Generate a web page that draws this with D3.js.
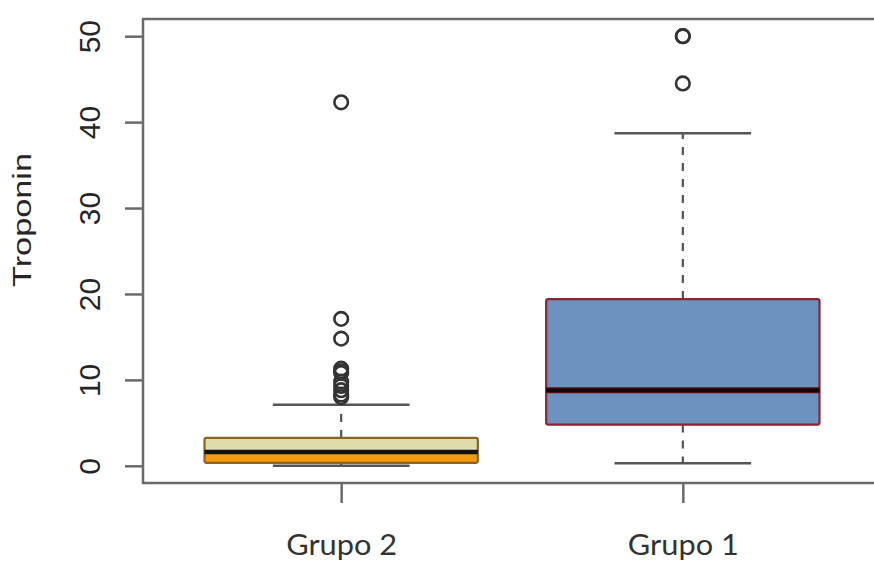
<!DOCTYPE html>
<html>
<head>
<meta charset="utf-8">
<script src="https://cdn.jsdelivr.net/npm/d3@7"></script>
<style>
html,body{margin:0;padding:0;background:#fff;}
svg{display:block;}
</style>
</head>
<body>
<svg id="chart" width="874" height="563"></svg>
<script>
// ---- data ----
const categories = ["Grupo 2", "Grupo 1"];
const positions = [1, 2];
const whiskerLow = [0.0, 0.3];
const q1 = [0.35, 4.8];
const median = [1.6, 8.8];
const q3 = [3.25, 19.4];
const whiskerHigh = [7.1, 38.7];
const outliersGrupo2 = [42.3, 17.1, 14.8, 11.3, 11.0, 10.8, 9.8, 9.3, 8.8, 8.3, 8.0];
const outliersGrupo1 = [50.0, 50.0, 44.5];
const outliers = [outliersGrupo2, outliersGrupo1];
const yTicks = [0, 10, 20, 30, 40, 50];
const yLabel = "Troponin";

// ---- layout ----
const svg = d3.select("#chart");
const x = d3.scaleLinear().domain([0.42, 2.58]).range([143, 881]);
const y = d3.scaleLinear().domain([-2, 52]).range([483, 19]);
const halfBox = 0.4, halfCap = 0.2;
const axisColor = "#6a6a6a";

// frame (left, top, bottom)
svg.append("path")
  .attr("d", `M${x(2.58)},${y(52)}H${x(0.42)}V${y(-2)}H${x(2.58)}`)
  .attr("fill", "none").attr("stroke", axisColor).attr("stroke-width", 2.5);

// y axis
const yAxis = d3.axisLeft(y).tickValues(yTicks).tickSize(18).tickFormat(d3.format("d"));
const gy = svg.append("g").attr("transform", `translate(${x(0.42)},0)`).call(yAxis);
gy.select(".domain").remove();
gy.selectAll(".tick line").attr("stroke", axisColor).attr("stroke-width", 2.5);
gy.selectAll(".tick text")
  .attr("x", null).attr("dy", null)
  .attr("text-anchor", "middle")
  .attr("transform", "translate(-43,0) rotate(-90)")
  .attr("font-family", "'Liberation Sans', Arial, sans-serif")
  .attr("font-size", 30)
  .attr("fill", "#262626");

// x axis ticks & labels
const xAxis = d3.axisBottom(x).tickValues(positions).tickSize(20).tickFormat((d, i) => categories[i]);
const gx = svg.append("g").attr("transform", `translate(0,${y(-2)})`).call(xAxis);
gx.select(".domain").remove();
gx.selectAll(".tick line").attr("stroke", axisColor).attr("stroke-width", 2.5);
gx.selectAll(".tick text")
  .attr("y", 72).attr("dy", null)
  .attr("font-family", "Lato, 'Open Sans', sans-serif")
  .attr("font-size", 29)
  .attr("textLength", 111)
  .attr("lengthAdjust", "spacingAndGlyphs")
  .attr("fill", "#333");

// y label
svg.append("text")
  .attr("transform", `translate(31,220) rotate(-90)`)
  .attr("text-anchor", "middle")
  .attr("font-family", "'Liberation Sans', Arial, sans-serif")
  .attr("font-size", 25)
  .attr("textLength", 134)
  .attr("lengthAdjust", "spacingAndGlyphs")
  .attr("fill", "#262626")
  .text(yLabel);

const boxes = positions.map((p, i) => ({
  p, lo: whiskerLow[i], q1: q1[i], med: median[i], q3: q3[i], hi: whiskerHigh[i], out: outliers[i], i
}));

const g = svg.append("g");

// whiskers (dashed)
boxes.forEach(b => {
  g.append("line").attr("x1", x(b.p)).attr("x2", x(b.p)).attr("y1", y(b.q3)).attr("y2", y(b.hi))
    .attr("stroke", "#555").attr("stroke-width", 2.2).attr("stroke-dasharray", "8,8");
  g.append("line").attr("x1", x(b.p)).attr("x2", x(b.p)).attr("y1", y(b.q1)).attr("y2", y(b.lo))
    .attr("stroke", "#555").attr("stroke-width", 2.2).attr("stroke-dasharray", "8,8");
  [b.lo, b.hi].forEach(v => {
    g.append("line").attr("x1", x(b.p - halfCap)).attr("x2", x(b.p + halfCap))
      .attr("y1", y(v)).attr("y2", y(v)).attr("stroke", "#555").attr("stroke-width", 2.5);
  });
});

// Grupo 2 box (two-tone)
{
  const b = boxes[0];
  const x0 = x(b.p - halfBox), w = x(b.p + halfBox) - x(b.p - halfBox);
  g.append("rect").attr("x", x0).attr("y", y(b.q3)).attr("width", w).attr("height", y(b.med) - y(b.q3))
    .attr("fill", "#e0dcaa");
  g.append("rect").attr("x", x0).attr("y", y(b.med)).attr("width", w).attr("height", y(b.q1) - y(b.med))
    .attr("fill", "#f39a10");
  g.append("rect").attr("x", x0).attr("y", y(b.q3)).attr("width", w).attr("height", y(b.q1) - y(b.q3))
    .attr("fill", "none").attr("stroke", "#8a6426").attr("stroke-width", 2.2).attr("rx", 2);
  g.append("line").attr("x1", x0).attr("x2", x0 + w).attr("y1", y(b.med)).attr("y2", y(b.med))
    .attr("stroke", "#111").attr("stroke-width", 4.5);
}
// Grupo 1 box
{
  const b = boxes[1];
  const x0 = x(b.p - halfBox), w = x(b.p + halfBox) - x(b.p - halfBox);
  g.append("rect").attr("x", x0).attr("y", y(b.q3)).attr("width", w).attr("height", y(b.q1) - y(b.q3))
    .attr("fill", "#6e92c0").attr("stroke", "#8c2432").attr("stroke-width", 2.2).attr("rx", 2);
  g.append("line").attr("x1", x0).attr("x2", x0 + w).attr("y1", y(b.med)).attr("y2", y(b.med))
    .attr("stroke", "#5a0f14").attr("stroke-width", 6);
  g.append("line").attr("x1", x0).attr("x2", x0 + w).attr("y1", y(b.med)).attr("y2", y(b.med))
    .attr("stroke", "#0a0a0a").attr("stroke-width", 3.5);
}

// outliers
boxes.forEach(b => {
  g.selectAll(null).data(b.out).enter().append("circle")
    .attr("cx", x(b.p)).attr("cy", d => y(d)).attr("r", 6.8)
    .attr("fill", "none").attr("stroke", "#333").attr("stroke-width", 2.6);
});
</script>
</body>
</html>
